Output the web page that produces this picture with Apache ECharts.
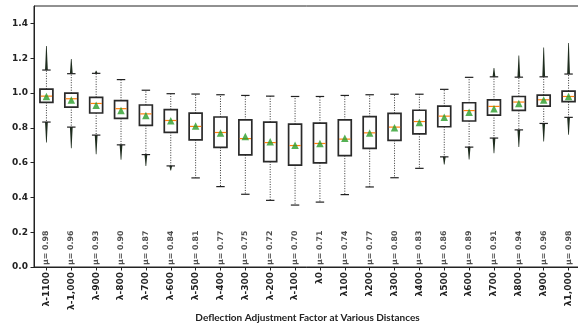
<!DOCTYPE html>
<html>
<head>
<meta charset="utf-8">
<script src="https://cdn.jsdelivr.net/npm/echarts@6/dist/echarts.min.js"></script>
<style>
html,body{margin:0;padding:0;background:#fff;}
#chart{width:578px;height:327px;}
</style>
</head>
<body>
<div id="chart"></div>
<script>
const categories = ['λ-1100','λ-1,000','λ-900','λ-800','λ-700','λ-600','λ-500','λ-400','λ-300','λ-200','λ-100','λ0','λ100','λ200','λ300','λ400','λ500','λ600','λ700','λ800','λ900','λ1,000'];
const whiskerLow  = [0.833,0.804,0.758,0.702,0.646,0.581,0.512,0.462,0.418,0.383,0.356,0.373,0.416,0.460,0.513,0.567,0.633,0.689,0.741,0.788,0.825,0.860];
const q1          = [0.946,0.919,0.885,0.854,0.814,0.774,0.731,0.687,0.644,0.606,0.585,0.598,0.640,0.682,0.728,0.765,0.806,0.839,0.873,0.900,0.925,0.950];
const medians     = [0.982,0.967,0.940,0.910,0.880,0.842,0.808,0.773,0.738,0.715,0.698,0.710,0.735,0.771,0.804,0.836,0.867,0.899,0.923,0.948,0.961,0.980];
const q3          = [1.022,0.999,0.975,0.956,0.931,0.905,0.884,0.862,0.846,0.833,0.821,0.827,0.846,0.864,0.883,0.901,0.924,0.944,0.961,0.980,0.988,1.011];
const whiskerHigh = [1.132,1.111,1.113,1.077,1.016,0.996,0.994,0.990,0.986,0.982,0.980,0.980,0.986,0.990,0.993,0.993,1.021,1.090,1.093,1.091,1.093,1.109];
const outlierLow  = [0.715,0.683,0.648,0.616,0.581,0.554,null,null,null,null,null,null,null,null,null,null,0.589,0.618,0.654,0.689,0.721,0.760];
const outlierHigh = [1.270,1.196,1.128,null,null,null,null,null,null,null,null,null,null,null,null,null,null,null,1.144,1.215,1.262,1.288];
const means       = [0.98,0.96,0.93,0.90,0.87,0.84,0.81,0.77,0.75,0.72,0.70,0.71,0.74,0.77,0.80,0.83,0.86,0.89,0.91,0.94,0.96,0.98];
const yTicks = [0,0.2,0.4,0.6,0.8,1.0,1.2,1.4];

const boxData = categories.map((c,i)=>[i, whiskerLow[i], q1[i], medians[i], q3[i], whiskerHigh[i],
  outlierLow[i]==null?'-':outlierLow[i], outlierHigh[i]==null?'-':outlierHigh[i]]);

const chart = echarts.init(document.getElementById('chart'), null, {renderer:'canvas'});
const axisColor = '#222';
const tickFont = {fontFamily:'DejaVu Sans', fontWeight:'bold', fontSize:9, color:'#222'};

function renderBox(params, api){
  const i = api.value(0);
  const band = api.size([1,0])[0];
  const bw = band*0.52, cw = band*0.34;
  const pWL = api.coord([i, api.value(1)]);
  const pQ1 = api.coord([i, api.value(2)]);
  const pMed = api.coord([i, api.value(3)]);
  const pQ3 = api.coord([i, api.value(4)]);
  const pWH = api.coord([i, api.value(5)]);
  const x = pMed[0];
  const oL = api.value(6), oH = api.value(7);
  const children = [];
  const spike = (from, to) => {
    const yc = api.coord([i, from])[1], yt = api.coord([i, to])[1];
    const ym = yc + (yt-yc)*0.45;
    return {type:'polygon', shape:{points:[[x-1.4,yc],[x+1.4,yc],[x+0.9,ym],[x+0.35,yt],[x-0.35,yt],[x-0.9,ym]]},
      style:{fill:'#1f2d1f'}};
  };
  if(!isNaN(oH)) children.push(spike(api.value(5), oH));
  if(!isNaN(oL)) children.push(spike(api.value(1), oL));
  const dashed = {stroke:'#333', lineWidth:1, lineDash:[1,1.5]};
  children.push({type:'line', shape:{x1:x,y1:pQ3[1],x2:x,y2:pWH[1]}, style:dashed});
  children.push({type:'line', shape:{x1:x,y1:pQ1[1],x2:x,y2:pWL[1]}, style:dashed});
  children.push({type:'line', shape:{x1:x-cw/2,y1:pWH[1],x2:x+cw/2,y2:pWH[1]}, style:{stroke:'#222',lineWidth:1.2}});
  children.push({type:'line', shape:{x1:x-cw/2,y1:pWL[1],x2:x+cw/2,y2:pWL[1]}, style:{stroke:'#222',lineWidth:1.2}});
  children.push({type:'rect', shape:{x:x-bw/2, y:pQ3[1], width:bw, height:pQ1[1]-pQ3[1]},
    style:{fill:'#fff', stroke:'#2a2a2a', lineWidth:1.7}});
  children.push({type:'line', shape:{x1:x-bw/2+0.8,y1:pMed[1],x2:x+bw/2-0.8,y2:pMed[1]}, style:{stroke:'#ff7f0e',lineWidth:1.2}});
  return {type:'group', children};
}

const option = {
  animation:false,
  backgroundColor:'#fff',
  grid:{left:34, right:-3, top:6, bottom:60, show:true, borderColor:'#222', borderWidth:1, backgroundColor:'transparent',
    containLabel:false, outerBoundsMode:'none'},
  xAxis:{
    type:'category', data:categories, boundaryGap:true,
    axisLine:{lineStyle:{color:axisColor, width:1}},
    axisTick:{show:true, alignWithLabel:true, length:3.5, lineStyle:{color:axisColor}},
    axisLabel:Object.assign({rotate:90, margin:5, interval:0}, tickFont),
    splitLine:{show:false},
    name:'Deflection Adjustment Factor at Various Distances',
    nameLocation:'middle', nameGap:46, nameMoveOverlap:false,
    nameTextStyle:{fontFamily:'Lato', fontWeight:'bold', fontSize:10, color:'#222'}
  },
  yAxis:{
    type:'value', min:0, max:1.5, interval:0.2,
    axisLine:{show:true, lineStyle:{color:axisColor, width:1}},
    axisTick:{show:true, length:3.5, lineStyle:{color:axisColor}, customValues:yTicks},
    axisLabel:Object.assign({margin:6, customValues:yTicks, formatter:v=>v.toFixed(1)}, tickFont),
    splitLine:{show:false}
  },
  series:[
    {type:'custom', renderItem:renderBox, data:boxData, encode:{x:0, y:[1,5]}, z:2, clip:false},
    {type:'scatter', data:categories.map((c,i)=>[i, means[i]]), symbol:'triangle', symbolSize:7.5,
      itemStyle:{color:'#2a9d2a'}, z:5},
    {type:'scatter', data:categories.map((c,i)=>[i, 0.012]), symbolSize:0, z:5,
      label:{show:true, position:[0,0], rotate:90, align:'left', verticalAlign:'middle',
        formatter:p=>'μ= '+means[p.dataIndex].toFixed(2),
        fontFamily:'DejaVu Sans', fontWeight:'bold', fontSize:7.8, color:'#222'}}
  ]
};
chart.setOption(option);
</script>
</body>
</html>
